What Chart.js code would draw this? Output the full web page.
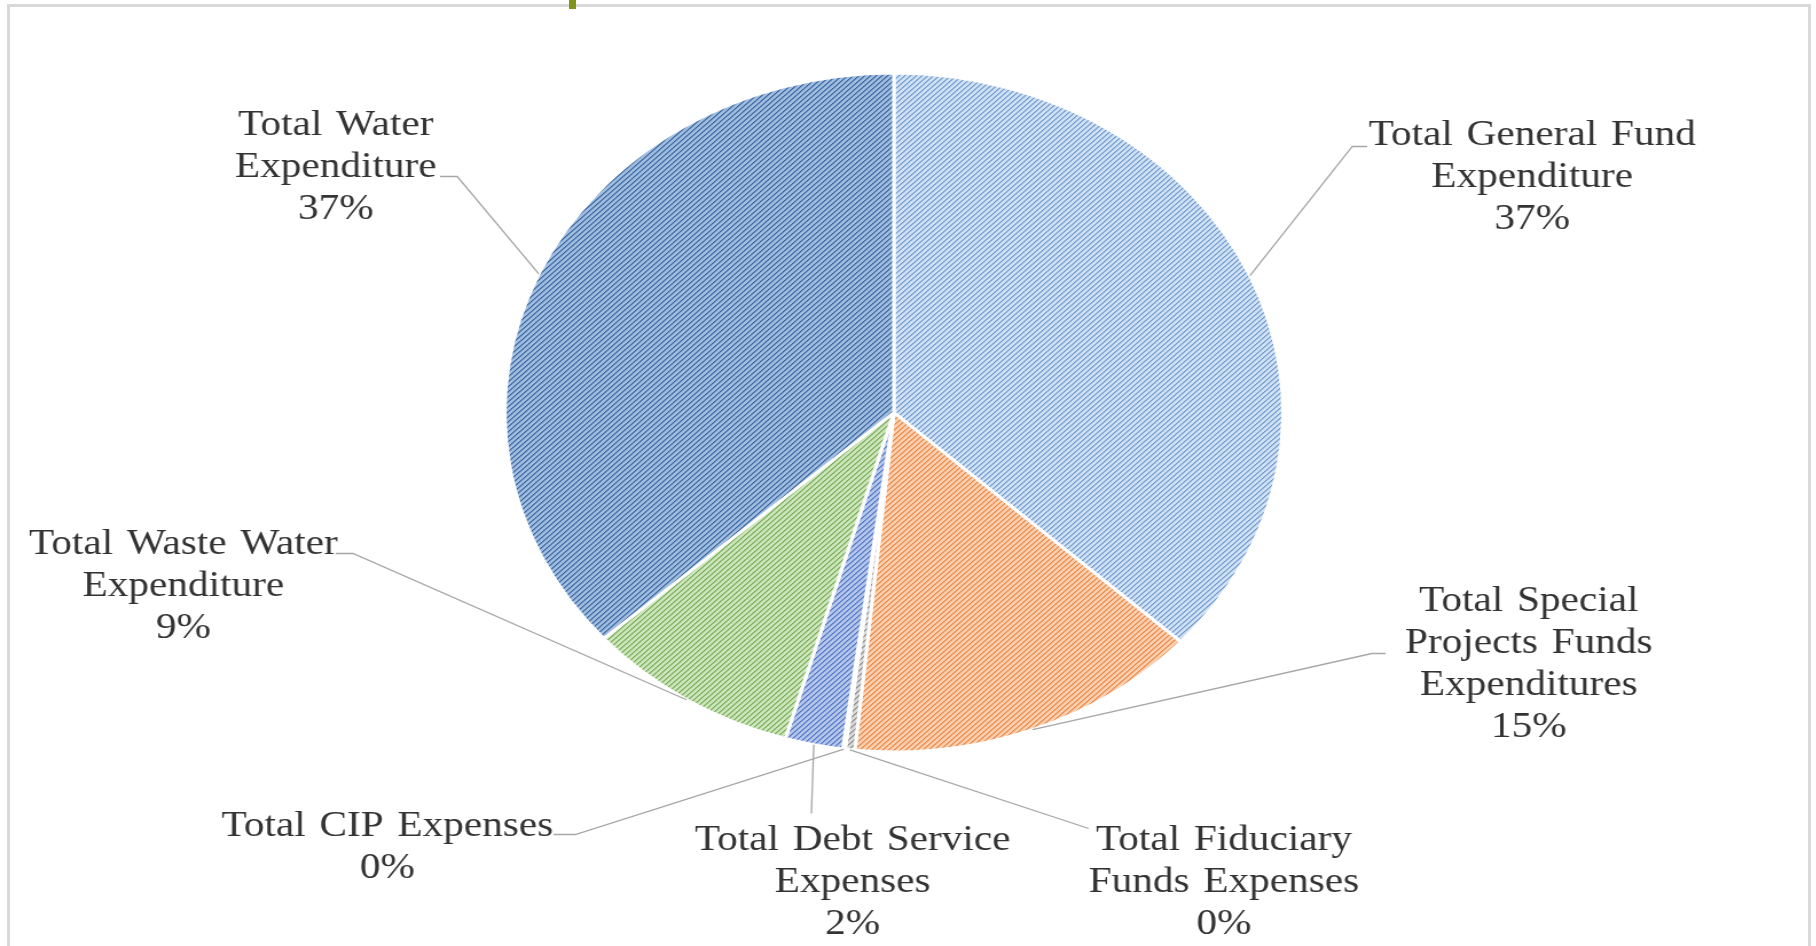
<!DOCTYPE html>
<html>
<head>
<meta charset="utf-8">
<script src="https://cdn.jsdelivr.net/npm/chart.js@4.4.1/dist/chart.umd.min.js"></script>
<style>
    html, body { margin: 0; padding: 0; background: #fff; overflow: hidden; }
    #frame { position: absolute; left: 7px; top: 4px; width: 1798px; height: 960px; border: 3px solid #d9d9d9; border-bottom: none; background: #fff; }
    #tab { position: absolute; left: 569px; top: 0; width: 7px; height: 9px; background: #7f9418; }
    #stretch { position: absolute; left: 0; top: 0; width: 1585px; height: 946px; transform: scaleX(1.146); transform-origin: 0 0; }
</style>
</head>
<body>
<div id="frame"></div>
<div id="tab"></div>
<div id="stretch"><canvas id="pie" width="1585" height="946"></canvas></div>
<script>
// share of total expenditure (percent), clockwise from 12 o'clock
const categories = [
    ['Total General Fund', 'Expenditure'],
    ['Total Special', 'Projects Funds', 'Expenditures'],
    ['Total Fiduciary', 'Funds Expenses'],
    ['Total CIP Expenses'],
    ['Total Debt Service', 'Expenses'],
    ['Total Waste Water', 'Expenditure'],
    ['Total Water', 'Expenditure']
];
const shares = [36.8, 14.8, 0.4, 0.1, 2.4, 8.9, 36.6];

// light base + darker hatch ink per slice
const baseColors = ['#cfe1f5', '#fbd0b0', '#d9d9d9', '#ffe699', '#b4c6ea', '#cde5bc', '#a0bde0'];
const inkColors  = ['#6f97cb', '#e88441', '#8c8c8c', '#ffc000', '#4f74c4', '#76ab53', '#36639e'];

// label placement relative to the pie centre (px): text centre x, first baseline y, leader bend points
const labelLayout = [
    { dx: 557, dy: -268, leader: [[400, -266], [413, -266]] },
    { dx: 554, dy: 198, leader: [[417, 241], [429, 241]] },
    { dx: 288, dy: 437, leader: [[170, 416]] },
    { dx: -442, dy: 423, leader: [[-278, 422], [-297, 422]] },
    { dx: -36, dy: 437, leader: [[-72, 401]] },
    { dx: -620, dy: 141, leader: [[-472, 141], [-487, 141]] },
    { dx: -487, dy: -278, leader: [[-381, -236], [-396, -236]] }
];

const FONT = '36px "Liberation Serif", "Times New Roman", Times, serif';

function hatch(base, ink) {
    const c = document.createElement('canvas');
    c.width = 5; c.height = 5;
    const g = c.getContext('2d');
    g.fillStyle = base;
    g.fillRect(0, 0, 5, 5);
    g.fillStyle = ink;
    for (let i = 0; i < 5; i++) g.fillRect(i, 4 - i, 1, 1);
    g.globalAlpha = 0.5;
    for (let i = 0; i < 5; i++) g.fillRect((i + 1) % 5, 4 - i, 1, 1);
    return g.createPattern(c, 'repeat');
}

const total = shares.reduce((s, v) => s + v, 0);

const calloutLabels = {
    id: 'calloutLabels',
    afterDatasetsDraw(chart) {
        const ctx = chart.ctx;
        const arcs = chart.getDatasetMeta(0).data;
        ctx.save();
        ctx.font = FONT;
        ctx.wordSpacing = '3px';
        ctx.textAlign = 'center';
        ctx.textBaseline = 'alphabetic';
        arcs.forEach((arc, i) => {
            const { x, y, startAngle, endAngle, outerRadius } = arc.getProps(['x', 'y', 'startAngle', 'endAngle', 'outerRadius'], true);
            const mid = (startAngle + endAngle) / 2;
            const lay = labelLayout[i];

            ctx.strokeStyle = '#a6a6a6';
            ctx.lineWidth = 1.3;
            ctx.beginPath();
            ctx.moveTo(x + Math.cos(mid) * outerRadius, y + Math.sin(mid) * outerRadius);
            lay.leader.forEach(p => ctx.lineTo(x + p[0], y + p[1]));
            ctx.stroke();

            const lines = categories[i].concat(Math.round(shares[i] / total * 100) + '%');
            ctx.fillStyle = '#333333';
            lines.forEach((t, k) => ctx.fillText(t, x + lay.dx, y + lay.dy + k * 42));
        });
        ctx.restore();
    }
};

function draw() {
    new Chart(document.getElementById('pie'), {
        type: 'pie',
        data: {
            labels: categories.map(c => c.join(' ')),
            datasets: [{
                data: shares,
                backgroundColor: baseColors.map((b, i) => hatch(b, inkColors[i])),
                borderColor: '#ffffff',
                borderWidth: 3
            }]
        },
        options: {
            responsive: false,
            animation: false,
            events: [],
            layout: { padding: { left: 439, top: 71.5, right: 464, bottom: 192.5 } },
            plugins: { legend: { display: false }, tooltip: { enabled: false } }
        },
        plugins: [calloutLabels]
    });
}

document.fonts.load('36px "Liberation Serif"').then(draw, draw);
</script>
</body>
</html>
